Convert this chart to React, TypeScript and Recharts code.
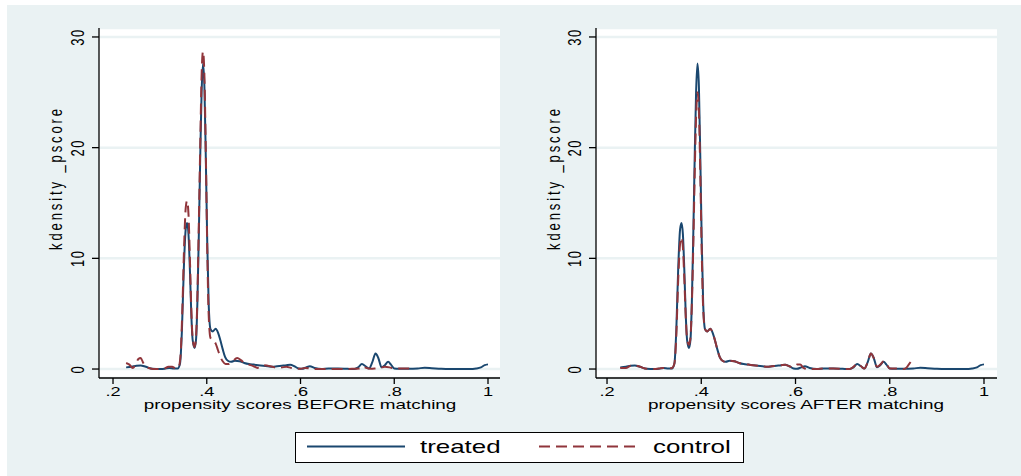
import { LineChart, Line, XAxis, YAxis, CartesianGrid } from "recharts";

// kdensity of the propensity score
const treatedX = [0.228, 0.24, 0.25, 0.259, 0.27, 0.284, 0.3, 0.31, 0.32, 0.33, 0.338, 0.343, 0.347, 0.351, 0.355, 0.358, 0.361, 0.364, 0.367, 0.37, 0.374, 0.377, 0.38, 0.383, 0.386, 0.389, 0.392, 0.395, 0.398, 0.401, 0.404, 0.408, 0.413, 0.419, 0.424, 0.429, 0.434, 0.439, 0.445, 0.452, 0.46, 0.47, 0.48, 0.49, 0.5, 0.51, 0.52, 0.53, 0.54, 0.55, 0.56, 0.57, 0.578, 0.587, 0.596, 0.603, 0.612, 0.62, 0.63, 0.645, 0.66, 0.68, 0.7, 0.715, 0.723, 0.731, 0.739, 0.746, 0.753, 0.76, 0.766, 0.773, 0.78, 0.787, 0.793, 0.8, 0.81, 0.83, 0.85, 0.865, 0.88, 0.9, 0.92, 0.94, 0.96, 0.975, 0.985, 0.993, 1.0];
const treatedY = [0.15, 0.2, 0.3, 0.33, 0.2, 0.02, 0, 0.02, 0.1, 0.05, 0.05, 0.5, 3.5, 9, 12.6, 13.2, 12.2, 9, 5, 2.6, 1.9, 2.6, 6, 12, 19, 25, 27.6, 25.5, 19, 11.5, 6, 3.6, 3.4, 3.65, 3.3, 2.6, 1.8, 1.1, 0.75, 0.65, 0.75, 0.7, 0.55, 0.45, 0.4, 0.35, 0.3, 0.25, 0.2, 0.25, 0.3, 0.35, 0.38, 0.25, 0.05, 0.02, 0.15, 0.25, 0.1, 0, 0.05, 0.05, 0.02, 0, 0.15, 0.45, 0.25, 0.05, 0.6, 1.4, 1.0, 0.15, 0.35, 0.65, 0.4, 0.05, 0.02, 0.02, 0.05, 0.12, 0.08, 0.02, 0, 0, 0, 0.05, 0.15, 0.35, 0.42];

const controlBeforeX = [0.228, 0.235, 0.242, 0.248, 0.254, 0.259, 0.264, 0.27, 0.28, 0.29, 0.3, 0.31, 0.318, 0.326, 0.334, 0.34, 0.344, 0.348, 0.352, 0.355, 0.358, 0.361, 0.364, 0.367, 0.37, 0.374, 0.377, 0.38, 0.383, 0.386, 0.389, 0.392, 0.395, 0.398, 0.401, 0.404, 0.408, 0.413, 0.419, 0.424, 0.429, 0.434, 0.44, 0.447, 0.455, 0.465, 0.473, 0.48, 0.49, 0.5, 0.508, 0.515, 0.522, 0.53, 0.54, 0.55, 0.56, 0.57, 0.58, 0.59, 0.6, 0.61, 0.62, 0.63, 0.65, 0.67, 0.69, 0.71, 0.725, 0.733, 0.74, 0.75, 0.76, 0.77, 0.78, 0.79, 0.8, 0.82, 0.84];
const controlBeforeY = [0.55, 0.4, 0.1, 0.4, 0.9, 1.0, 0.6, 0.2, 0.05, 0, 0, 0.05, 0.2, 0.2, 0.05, 0.2, 1.2, 5.5, 11.5, 14.5, 15.2, 14, 10, 5.5, 2.7, 2.0, 2.8, 6.5, 13, 20, 26.5, 28.7, 26.5, 19.5, 11, 5, 2.8, 2.6, 2.3, 1.7, 1.1, 0.7, 0.45, 0.45, 0.7, 1.0, 0.8, 0.55, 0.4, 0.25, 0.1, 0.25, 0.35, 0.3, 0.2, 0.12, 0.15, 0.2, 0.1, 0.05, 0.02, 0.1, 0.05, 0, 0, 0, 0, 0.02, 0.05, 0.25, 0.1, 0.02, 0.05, 0.1, 0.2, 0.15, 0.05, 0.05, 0.03];

const controlAfterX = [0.228, 0.24, 0.25, 0.259, 0.27, 0.284, 0.3, 0.31, 0.32, 0.33, 0.338, 0.343, 0.347, 0.351, 0.355, 0.358, 0.361, 0.364, 0.367, 0.37, 0.374, 0.377, 0.38, 0.383, 0.386, 0.389, 0.392, 0.395, 0.398, 0.401, 0.404, 0.408, 0.413, 0.419, 0.424, 0.429, 0.434, 0.439, 0.445, 0.452, 0.46, 0.47, 0.48, 0.49, 0.5, 0.51, 0.52, 0.53, 0.54, 0.55, 0.56, 0.57, 0.578, 0.587, 0.596, 0.603, 0.61, 0.617, 0.625, 0.645, 0.66, 0.68, 0.7, 0.715, 0.723, 0.731, 0.739, 0.746, 0.753, 0.76, 0.766, 0.773, 0.78, 0.787, 0.793, 0.8, 0.81, 0.82, 0.83, 0.836, 0.841, 0.847];
const controlAfterY = [0.1, 0.1, 0.3, 0.33, 0.2, 0.02, 0, 0.05, 0.1, 0.05, 0.1, 0.5, 3, 8, 11.3, 11.9, 11, 8.2, 4.8, 2.7, 2.2, 2.8, 5.8, 11, 17.5, 22.8, 25.0, 23.3, 17.5, 10.5, 5.5, 3.6, 3.4, 3.65, 3.3, 2.6, 1.8, 1.1, 0.75, 0.65, 0.75, 0.7, 0.55, 0.45, 0.4, 0.35, 0.3, 0.25, 0.2, 0.25, 0.3, 0.35, 0.38, 0.25, 0.15, 0.4, 0.4, 0.1, 0, 0, 0.05, 0.05, 0.02, 0, 0.2, 0.5, 0.25, 0.05, 0.6, 1.4, 1.0, 0.2, 0.4, 0.7, 0.45, 0.05, 0.05, 0.05, 0, 0.15, 0.45, 0.8];

const xTicks = [0.2, 0.4, 0.6, 0.8, 1];
const yTicks = [0, 10, 20, 30];
const seriesNames = ["treated", "control"];
const panelTitles = ["propensity scores BEFORE matching", "propensity scores AFTER matching"];
const yTitle = "kdensity _pscore";

const zip = (xs: number[], ys: number[]) => xs.map((x, i) => ({ x, y: ys[i] }));
const treated = zip(treatedX, treatedY);
const controlBefore = zip(controlBeforeX, controlBeforeY);
const controlAfter = zip(controlAfterX, controlAfterY);

const NAVY = "#1a476f";
const MAROON = "#90353b";
const BG = "#eaf2f3";
const FONT = "'Liberation Sans', Arial, sans-serif";
const DASH = "11 6";

const fmtX = (v: number) => (v === 1 ? "1" : String(v).replace(/^0/, ""));

// stata text looks stretched sideways, so every label gets scale(1.4,1)
function VText({ x, y, size, spacing, children }: any) {
  return (
    <g transform={`translate(${x},${y})`}>
      <g transform="scale(1.4,1)">
        <g transform="rotate(-90)">
          <text x={0} y={0} textAnchor="middle" fontSize={size} letterSpacing={spacing} fontFamily={FONT} fill="#000">
            {children}
          </text>
        </g>
      </g>
    </g>
  );
}

function Panel({ left, width, axisW, right, xDomain, control, title, titleX, yTitleX, tickBase }: any) {
  return (
    <div style={{ position: "absolute", left, top: 0 }}>
      <LineChart width={width} height={425} margin={{ top: 28, right, bottom: 0, left: 0 }}>
        <CartesianGrid vertical={false} fill="#ffffff" stroke={BG} strokeWidth={2.5} strokeOpacity={1} />
        <XAxis
          type="number" dataKey="x" domain={xDomain} ticks={xTicks} allowDataOverflow
          height={47} interval={0}
          axisLine={{ stroke: "#000", strokeWidth: 1.3 }}
          tickLine={{ stroke: "#000", strokeWidth: 1.3 }} tickSize={6}
          tick={(p: any) => (
            <text transform={`translate(${p.x},396) scale(1.4,1)`} textAnchor="middle" fontSize={13} fontFamily={FONT} fill="#000">
              {fmtX(p.payload.value)}
            </text>
          )}
          label={{
            content: () => (
              <text transform={`translate(${titleX},409) scale(1.4,1)`} textAnchor="middle" fontSize={13.5} fontFamily={FONT} fill="#000">
                {title}
              </text>
            ),
          }}
        />
        <YAxis
          type="number" domain={[-0.81, 30.81]} ticks={yTicks} allowDataOverflow
          width={axisW} interval={0}
          axisLine={{ stroke: "#000", strokeWidth: 1.3 }}
          tickLine={{ stroke: "#000", strokeWidth: 1.3 }} tickSize={7}
          tick={(p: any) => (
            <VText x={tickBase} y={p.y} size={13} spacing={1.5}>{String(p.payload.value)}</VText>
          )}
          label={{
            content: () => <VText x={yTitleX} y={178} size={13} spacing={2.9}>{yTitle}</VText>,
          }}
        />
        <Line data={treated} dataKey="y" name={seriesNames[0]} type="monotone" stroke={NAVY} strokeWidth={2} dot={false} activeDot={false} isAnimationActive={false} />
        <Line data={control} dataKey="y" name={seriesNames[1]} type="monotone" stroke={MAROON} strokeWidth={2} strokeDasharray={DASH} dot={false} activeDot={false} isAnimationActive={false} />
      </LineChart>
    </div>
  );
}

export default function App() {
  return (
    <div style={{ position: "relative", width: 1021, height: 476, background: "#fff", overflow: "hidden" }}>
      <style>{"body{margin:0}"}</style>
      <div style={{ position: "absolute", left: 7, top: 5, right: 0, bottom: 0, background: BG }} />
      <Panel left={0} width={510} axisW={99} right={10} xDomain={[0.1701, 1.0256]} control={controlBefore}
        title={panelTitles[0]} titleX={300} yTitleX={62} tickBase={84} />
      <Panel left={510} width={511} axisW={86} right={24} xDomain={[0.1766, 1.0276]} control={controlAfter}
        title={panelTitles[1]} titleX={286} yTitleX={50} tickBase={71} />
      <svg width={1021} height={476} style={{ position: "absolute", left: 0, top: 0, pointerEvents: "none" }}>
        <rect x={295.5} y={432.5} width={448} height={30} fill="#fff" stroke="#000" strokeWidth={1} />
        <line x1={307} x2={405} y1={446.5} y2={446.5} stroke={NAVY} strokeWidth={2} />
        <text transform="translate(420,453) scale(1.4,1)" fontSize={18.5} fontFamily={FONT} fill="#000">{seriesNames[0]}</text>
        <line x1={539} x2={638} y1={446.5} y2={446.5} stroke={MAROON} strokeWidth={2} strokeDasharray={DASH} />
        <text transform="translate(653,453) scale(1.4,1)" fontSize={18.5} fontFamily={FONT} fill="#000">{seriesNames[1]}</text>
      </svg>
    </div>
  );
}
